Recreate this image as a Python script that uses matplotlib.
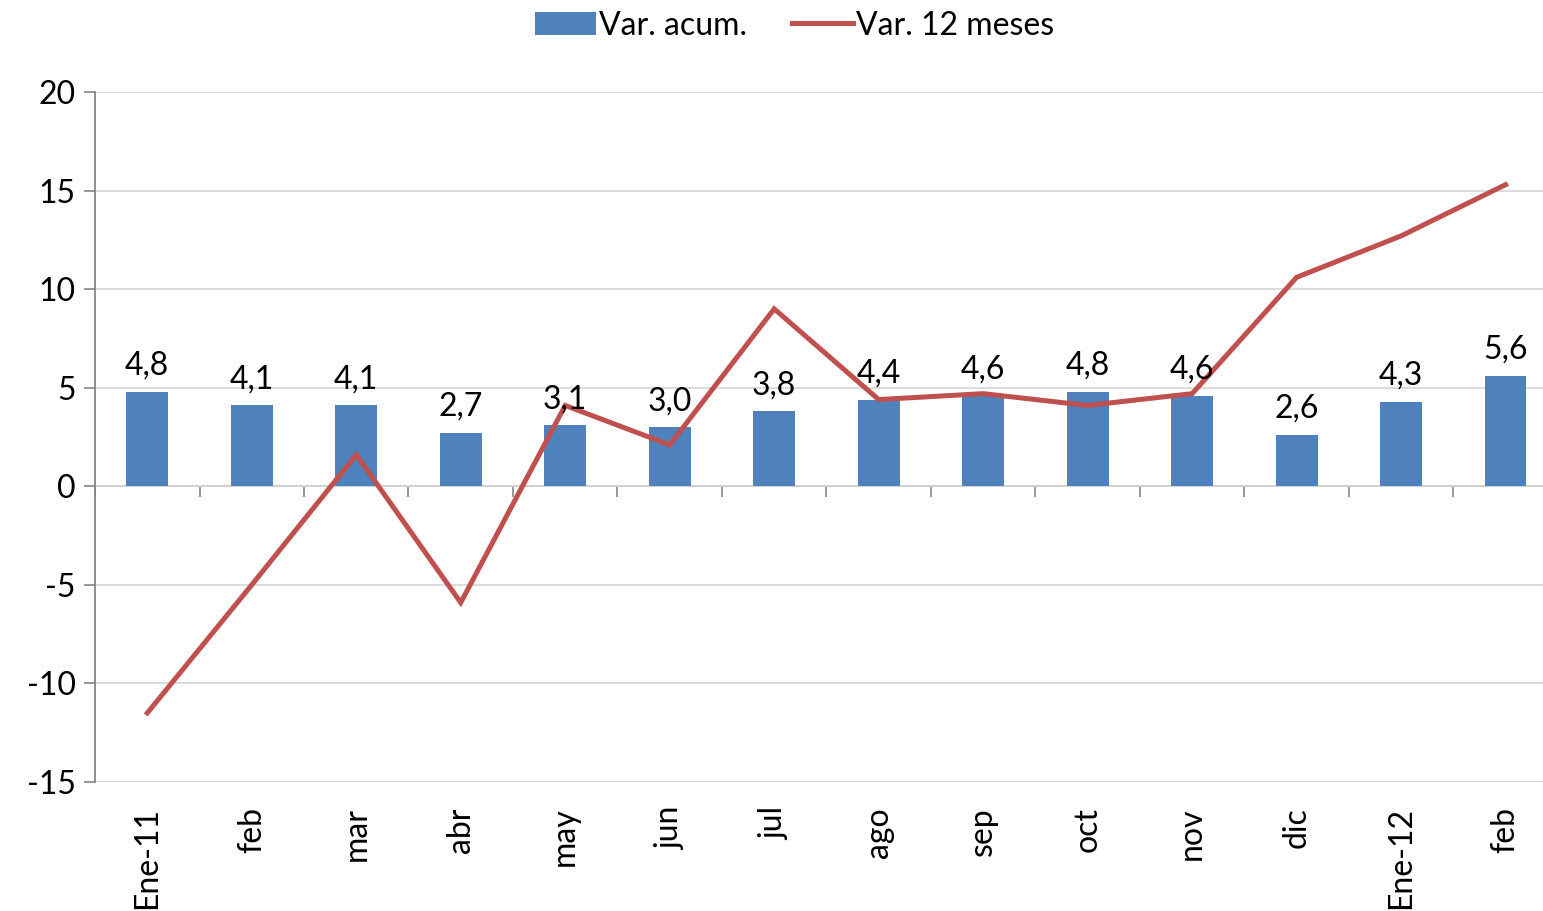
import numpy as np
import matplotlib
matplotlib.use("Agg")
import matplotlib.pyplot as plt

plt.rcParams['font.family'] = ['Lato', 'DejaVu Sans']
plt.rcParams['axes.unicode_minus'] = False

# data
meses = ['Ene-11', 'feb', 'mar', 'abr', 'may', 'jun', 'jul',
         'ago', 'sep', 'oct', 'nov', 'dic', 'Ene-12', 'feb']
var_acum = [4.8, 4.1, 4.1, 2.7, 3.1, 3.0, 3.8, 4.4, 4.6, 4.8, 4.6, 2.6, 4.3, 5.6]
var_12m = [-11.5, -5.0, 1.6, -5.9, 4.1, 2.1, 9.0, 4.4, 4.7, 4.1, 4.7, 10.6, 12.7, 15.3]

azul = '#4F81BD'
rojo = '#C0504D'
gris = '#868686'

fig = plt.figure(figsize=(15.43, 9.11), dpi=100)
ax = fig.add_axes([0.0616, 0.1416, 0.948, 0.7574])

x = np.arange(len(meses))
bars = ax.bar(x, var_acum, width=0.4, color=azul, label='Var. acum.', zorder=2)
linea, = ax.plot(x, var_12m, color=rojo, lw=3.6, label='Var. 12 meses', zorder=3,
                 solid_joinstyle='miter')

# etiquetas de datos con coma decimal
for xi, v in zip(x, var_acum):
    ax.annotate(f'{v:.1f}'.replace('.', ','), (xi, v), xytext=(0, 8),
                textcoords='offset points', ha='center', va='bottom',
                fontsize=23, zorder=4)

ax.set_xlim(-0.5, len(meses) - 0.5)
ax.set_ylim(-15, 20)
ax.set_yticks(np.arange(-15, 21, 5))
ax.tick_params(axis='y', labelsize=23, length=8, color=gris, width=1.2, pad=6)
ax.yaxis.grid(True, color='#D9D9D9', lw=1.3, zorder=0)
ax.set_axisbelow(True)

ax.set_xticks(x)
ax.set_xticklabels(meses, rotation=90, fontsize=23)
ax.tick_params(axis='x', length=0, pad=18)

for s in ['top', 'right', 'bottom']:
    ax.spines[s].set_visible(False)
ax.spines['left'].set_color(gris)
ax.spines['left'].set_linewidth(1.3)

# eje de categorias sobre y=0 con marcas entre meses
eje0 = ax.secondary_xaxis(15 / 35)
eje0.set_xticks(np.arange(len(meses) + 1) - 0.5)
eje0.set_xticklabels([])
eje0.tick_params(length=8, color=gris, width=1.2)
eje0.spines['bottom'].set_color(gris)
eje0.spines['bottom'].set_linewidth(1.3)

fig.legend(handles=[bars, linea], loc='upper center',
           bbox_to_anchor=(0.515, 1.02), ncol=2, frameon=False, fontsize=23,
           handlelength=1.9, handletextpad=0.1, columnspacing=1.4)

fig.savefig('out.png', dpi=100)
